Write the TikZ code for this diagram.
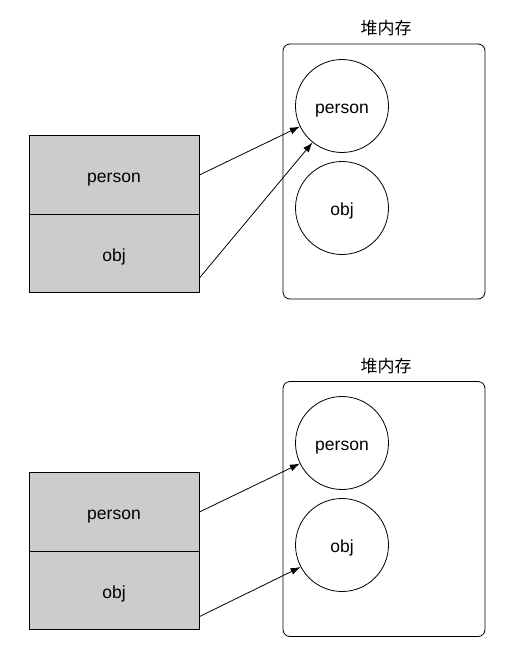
\documentclass[tikz,border=0pt]{standalone}
\usepackage{fontspec}
\setmainfont{Liberation Sans}
\newfontfamily\cjk{Noto Sans CJK SC}
\usetikzlibrary{arrows.meta}
\definecolor{cellgray}{HTML}{CCCCCC}
\tikzset{
  lowtext/.style={text height=15pt, text depth=0pt},
  cell/.style={draw, fill=cellgray, line width=0.8pt, minimum width=170pt, minimum height=78.5pt, inner sep=0pt, lowtext, font=\fontsize{17.5}{20}\selectfont},
  heap/.style={draw, rounded corners=7pt, line width=0.8pt, minimum width=202pt, minimum height=255pt, inner sep=0pt},
  obj/.style={draw, circle, line width=0.8pt, minimum size=93pt, inner sep=0pt, lowtext, font=\fontsize{17.5}{20}\selectfont},
  heaplabel/.style={font=\cjk\fontsize{17}{20}\selectfont, inner sep=0pt},
  ref/.style={line width=0.8pt, -{Latex[length=10pt,width=7pt]}}
}
\begin{document}
\begin{tikzpicture}[x=1pt,y=-1pt]
\useasboundingbox (0,0) rectangle (523,672);
% ---- top diagram ----
\node[heap] (hA) at (384,171.5) {};
\node[heaplabel] (lA) at (386,28) {堆内存};
\node[obj] (cpA) at (342,106) {person};
\node[obj] (coA) at (342,208) {obj};
\node[cell] (spA) at (114,175) {person};
\node[cell] (soA) at (114,253.5) {obj};
\draw[ref] (spA.east) -- (cpA.206);
\draw[ref] (soA.-16.7) -- (cpA.231);
% ---- bottom diagram ----
\node[heap] (hB) at (384,509) {};
\node[heaplabel] (lB) at (386,366) {堆内存};
\node[obj] (cpB) at (342,443) {person};
\node[obj] (coB) at (342,545) {obj};
\node[cell] (spB) at (114,512) {person};
\node[cell] (soB) at (114,590.5) {obj};
\draw[ref] (spB.east) -- (cpB.206);
\draw[ref] (soB.-17.3) -- (coB.208);
\end{tikzpicture}
\end{document}
